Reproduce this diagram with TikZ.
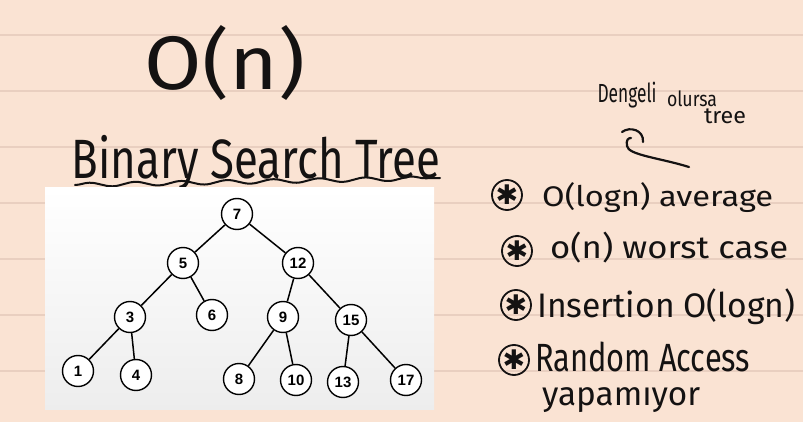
\documentclass[tikz,border=0pt]{standalone}
\usepackage{fontspec}
\setmainfont{Fira Sans}
\newfontfamily\keyfont{Liberation Sans}
\newfontfamily\symfont{DejaVu Sans}
\usepackage{graphicx}
\usetikzlibrary{decorations.pathmorphing}
\definecolor{Paper}{RGB}{250,227,211}
\definecolor{PaperLine}{RGB}{233,207,192}
\definecolor{Ink}{RGB}{20,18,18}
% hand-written text squeezed into its box: width, height, text
\newcommand{\handtext}[3]{\resizebox*{#1pt}{#2pt}{#3}}

\begin{document}
\begin{tikzpicture}[x=1pt, y=-1pt,
    key/.style={draw, circle, line width=1.4pt, fill=white, minimum size=31pt,
                inner sep=0pt, font=\keyfont\bfseries\fontsize{15}{15}\selectfont},
    link/.style={line width=1.5pt},
    ink/.style={inner sep=0pt, text=Ink},
    inkline/.style={Ink, line width=2.2pt, line cap=round},
    star/.style={draw=Ink, circle, line width=1.8pt, minimum size=30pt, inner sep=0pt,
                 text=Ink, font=\symfont\fontsize{27}{27}\selectfont}
  ]
    \useasboundingbox (0,0) rectangle (803,422);
    \fill[Paper] (0,0) rectangle (803,422);
    % ruled lines of the page
    \foreach \y in {35,91,147,203,259,315,371}
      \draw[PaperLine, line width=1.2pt] (0,\y) -- (803,\y);

    % headings
    \node[ink] (order) at (225,63) {\handtext{160}{75}{O(n)}};
    \node[ink] (title) at (256,163) {\handtext{368}{55}{Binary Search Tree}};
    \coordinate (ul-a) at (75,185);
    \coordinate (ul-b) at (440,178);
    \draw[inkline, line width=2pt, decorate,
          decoration={snake, amplitude=2pt, segment length=46pt}] (ul-a) -- (ul-b);

    % tree panel
    \shade[top color=white, bottom color=black!7] (45,188) rectangle (434,409);
    \node[key] (n7)  at (237,214) {7};
    \node[key] (n5)  at (183,263) {5};
    \node[key] (n12) at (298,263) {12};
    \node[key] (n3)  at (130,317) {3};
    \node[key] (n6)  at (212,315) {6};
    \node[key] (n9)  at (283,317) {9};
    \node[key] (n15) at (351,320) {15};
    \node[key] (n1)  at (78,371)  {1};
    \node[key] (n4)  at (136,375) {4};
    \node[key] (n8)  at (239,379) {8};
    \node[key] (n10) at (296,380) {10};
    \node[key] (n13) at (343,382) {13};
    \node[key] (n17) at (406,380) {17};
    \foreach \a/\b in {n7/n5, n7/n12, n5/n3, n5/n6, n12/n9, n12/n15,
                       n3/n1, n3/n4, n9/n8, n9/n10, n15/n13, n15/n17}
      \draw[link] (\a) -- (\b);

    % note on balance
    \node[ink] (dengeli) at (627,95)  {\handtext{59}{26}{Dengeli}};
    \node[ink] (olursa)  at (692,99)  {\handtext{50}{16}{olursa}};
    \node[ink] (tree)    at (725,116) {\handtext{42}{15}{tree}};
    \coordinate (curl-end) at (689,167);
    \draw[inkline] (curl-end) .. controls (660,158) and (628,155) .. (627,146)
                   .. controls (626,140) and (628,138) .. (631,138);
    \draw[inkline] (622,132) .. controls (630,126) and (644,130) .. (643,142);

    % bullet list
    \node[star] (b1) at (507,195) {✱};
    \node[star] (b2) at (517,251) {✱};
    \node[star] (b3) at (516,305) {✱};
    \node[star] (b4) at (514,360) {✱};
    \node[ink, anchor=west] (avg)    at (542,198) {\handtext{231}{30}{O(logn) average}};
    \node[ink, anchor=west] (worst)  at (550,248) {\handtext{238}{31}{o(n) worst case}};
    \node[ink, anchor=west] (insert) at (537,307) {\handtext{258}{36}{Insertion O(logn)}};
    \node[ink, anchor=west] (random) at (535,357) {\handtext{215}{30}{Random Access}};
    \node[ink, anchor=west] (yapam)  at (542,400) {\handtext{158}{25}{yapamıyor}};
  \end{tikzpicture}
\end{document}
